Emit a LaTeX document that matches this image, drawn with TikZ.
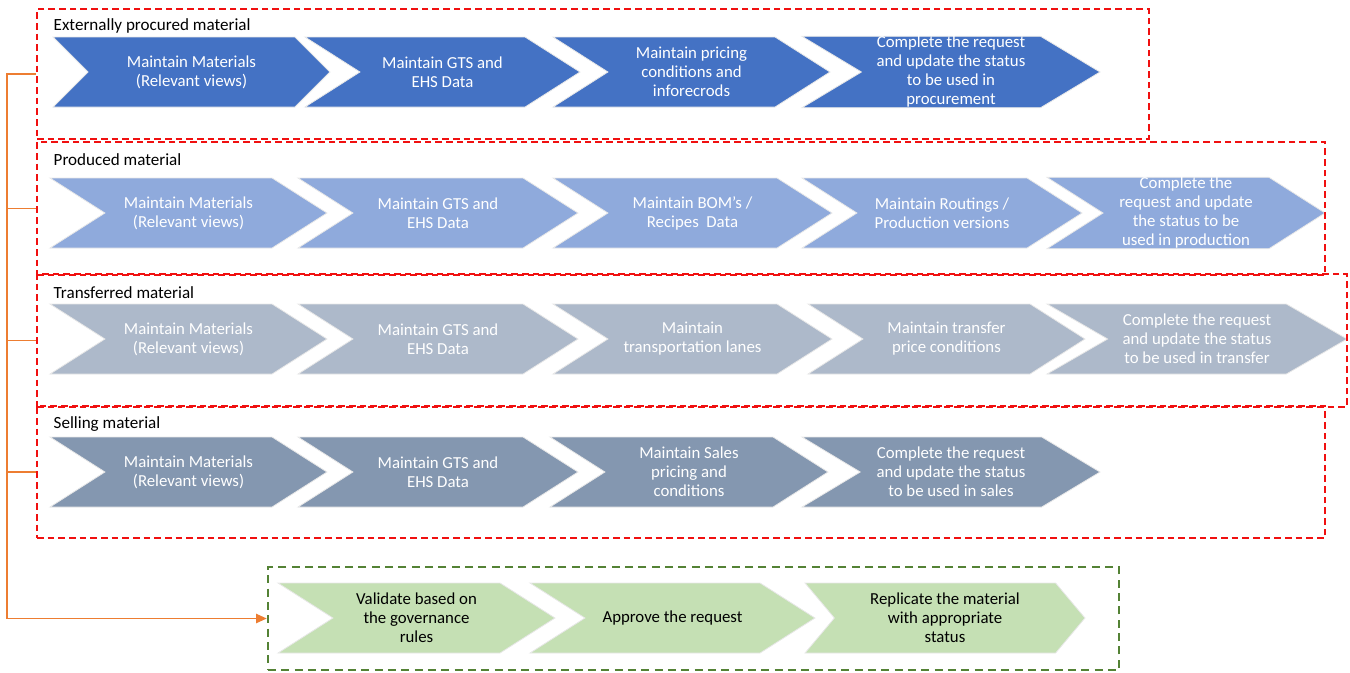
\documentclass[tikz,border=0pt]{standalone}
\usepackage{fontspec}
\setmainfont{Carlito}
\usetikzlibrary{shapes.symbols, arrows.meta, fit}

\definecolor{procBlue}{HTML}{4472C4}
\definecolor{prodBlue}{HTML}{8FAADC}
\definecolor{tranGray}{HTML}{ADB9CA}
\definecolor{sellGray}{HTML}{8497B0}
\definecolor{okGreen}{HTML}{C5E0B4}
\definecolor{okDash}{HTML}{548235}
\definecolor{dashRed}{HTML}{F01010}
\definecolor{bracketOrange}{HTML}{ED7D31}

\begin{document}
\begin{tikzpicture}[
        x=0.75pt, y=-0.75pt,
        chev/.style={
          signal,
          signal to=east,
          signal from=west,
          signal pointer angle=65,
          minimum height=52.5pt,
          inner sep=0pt,
          draw=white!82!gray,
          line width=0.6pt,
          text=white,
          align=center,
          font=\fontsize{12.6}{14.25}\selectfont
        },
        chevw/.style={minimum width=#1*0.75pt},
        groupLabel/.style={anchor=west, font=\fontsize{12.8}{14}\selectfont},
        redBox/.style={
          draw=dashRed,
          dash pattern=on 5pt off 3pt,
          line width=1.5pt,
          inner sep=0pt
        },
        greenBox/.style={
          draw=okDash,
          dash pattern=on 6pt off 4pt,
          line width=1.9pt,
          inner sep=0pt
        },
        bracket/.style={draw=bracketOrange, line width=1.1pt}
    ]
    \useasboundingbox (0,0) rectangle (1350,672);

    % Externally procured material
    \node[groupLabel] (procLabel) at (49,26) {Externally procured material};
    \node[chev, fill=procBlue, chevw=277, signal pointer angle=90] (proc1) at (191.5,72) {Maintain Materials\\(Relevant views)};
    \node[chev, fill=procBlue, chevw=275] (proc2) at (442.5,72) {Maintain GTS and\\EHS Data};
    \node[chev, fill=procBlue, chevw=277] (proc3) at (691.5,72) {Maintain pricing\\conditions and\\inforecrods};
    \node[chev, fill=procBlue, chevw=298, signal pointer angle=62] (proc4) at (951,72) {Complete the request\\and update the status\\to be used in\\procurement};

    % Produced material
    \node[groupLabel] (prodLabel) at (49,160) {Produced material};
    \node[chev, fill=prodBlue, chevw=277] (prod1) at (188.5,213) {Maintain Materials\\(Relevant views)};
    \node[chev, fill=prodBlue, chevw=280] (prod2) at (438,213) {Maintain GTS and\\EHS Data};
    \node[chev, fill=prodBlue, chevw=279] (prod3) at (692.5,213) {Maintain BOM’s /\\Recipes~ Data};
    \node[chev, fill=prodBlue, chevw=280] (prod4) at (942,213) {Maintain Routings /\\Production versions};
    \node[chev, fill=prodBlue, chevw=278] (prod5) at (1186,213) {Complete the\\request and update\\the status to be\\used in production};

    % Transferred material
    \node[groupLabel] (tranLabel) at (49,293) {Transferred material};
    \node[chev, fill=tranGray, chevw=277] (tran1) at (188.5,339) {Maintain Materials\\(Relevant views)};
    \node[chev, fill=tranGray, chevw=280] (tran2) at (438,339) {Maintain GTS and\\EHS Data};
    \node[chev, fill=tranGray, chevw=279] (tran3) at (692.5,339) {Maintain\\transportation lanes};
    \node[chev, fill=tranGray, chevw=277] (tran4) at (946.5,339) {Maintain transfer\\price conditions};
    \node[chev, fill=tranGray, chevw=300, signal pointer angle=60] (tran5) at (1197,339) {Complete the request\\and update the status\\to be used in transfer};

    % Selling material
    \node[groupLabel] (sellLabel) at (49,424) {Selling material};
    \node[chev, fill=sellGray, chevw=277] (sell1) at (188.5,472) {Maintain Materials\\(Relevant views)};
    \node[chev, fill=sellGray, chevw=280] (sell2) at (438,472) {Maintain GTS and\\EHS Data};
    \node[chev, fill=sellGray, chevw=278] (sell3) at (689,472) {Maintain Sales\\pricing and\\conditions};
    \node[chev, fill=sellGray, chevw=298, signal pointer angle=62] (sell4) at (951,472) {Complete the request\\and update the status\\to be used in sales};

    % Governance steps
    \node[chev, fill=okGreen, text=black, chevw=277] (ok1) at (416.5,618) {Validate based on\\the governance\\rules};
    \node[chev, fill=okGreen, text=black, chevw=285] (ok2) at (672.5,618) {Approve the request};
    \node[chev, fill=okGreen, text=black, chevw=280, signal pointer angle=100] (ok3) at (945,618) {Replicate the material\\with appropriate\\status};

    % Dashed boxes
    \node[redBox, fit={(37,9) (1149,139)}] (procBox) {};
    \node[redBox, fit={(37,142) (1325,275)}] (prodBox) {};
    \node[redBox, fit={(37,274) (1347,407)}] (tranBox) {};
    \node[redBox, fit={(37,406) (1325,538)}] (sellBox) {};
    \node[greenBox, fit={(268,567) (1119,670)}] (okBox) {};

    % Bracket to the governance steps
    \coordinate (spine) at (7,75);
    \draw[bracket, -{Triangle[length=8pt, width=7pt]}] (procBox.west) -- (procBox.west -| spine) |- (okBox.west);
    \foreach \grp in {prodBox, tranBox, sellBox}
      \draw[bracket] (\grp.west) -- (\grp.west -| spine);

\end{tikzpicture}
\end{document}
